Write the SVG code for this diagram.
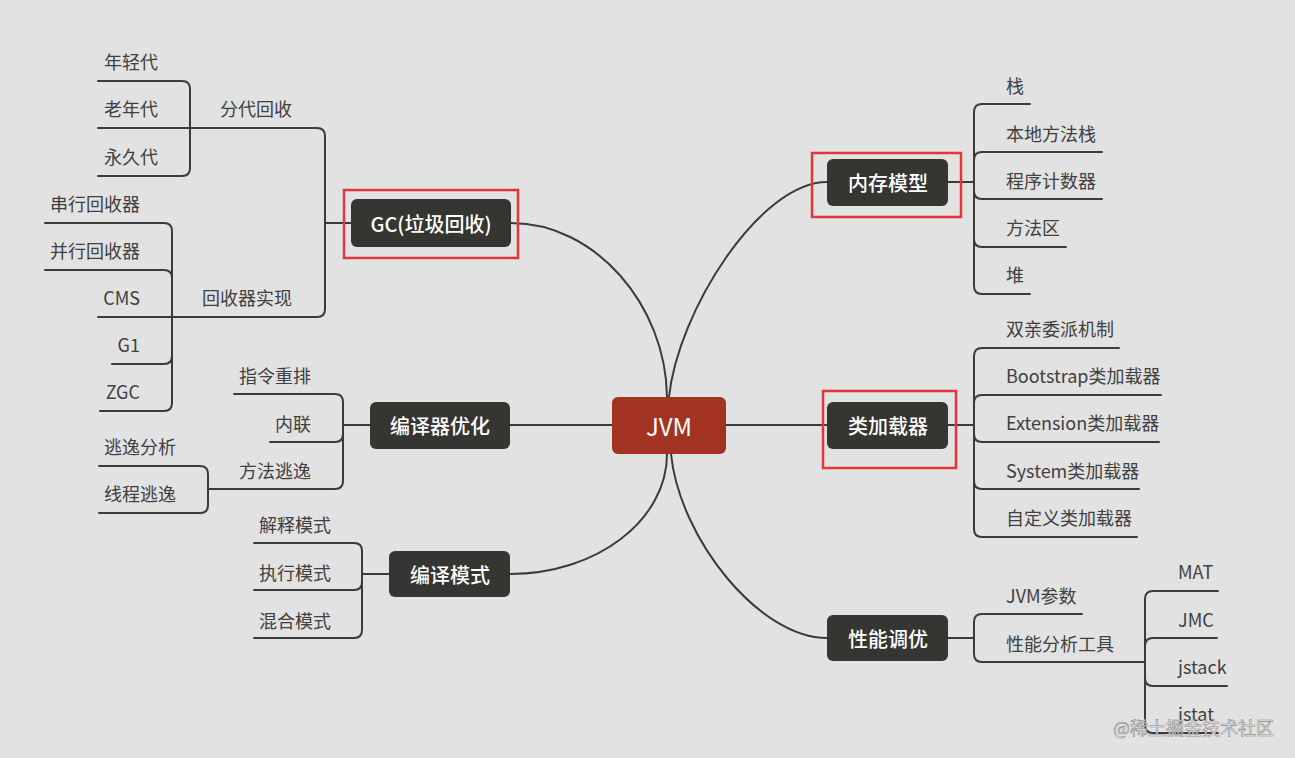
<svg xmlns="http://www.w3.org/2000/svg" width="1295" height="758" viewBox="0 0 1295 758">
<style>
.bg{fill:#e2e2e2}
.ln{fill:none;stroke:#3b3b3b;stroke-width:2;stroke-linecap:round;stroke-linejoin:round}
.mn{fill:none;stroke:#3b3b3b;stroke-width:2}
.node{fill:#353532}
.root{fill:#a23421}
.nt{font-family:"Noto Sans CJK SC","Noto Sans",sans-serif;font-size:20px;font-weight:500;fill:#ffffff;text-anchor:middle;dominant-baseline:central}
.rt{font-family:"Noto Sans CJK SC","Noto Sans",sans-serif;font-size:24px;fill:#ffffff;text-anchor:middle;dominant-baseline:central}
.ct{font-family:"Noto Sans CJK SC","Noto Sans",sans-serif;font-size:18px;fill:#404040;dominant-baseline:central}
.l{text-anchor:end}
.hl{fill:none;stroke:#e5343a;stroke-width:2.5}
.wm{font-family:"Noto Sans CJK SC","Noto Sans",sans-serif;font-size:18px;fill:#ececec;stroke:#8e8e8e;stroke-width:0.6;dominant-baseline:central}
</style>
<rect class="bg" x="0" y="0" width="1295" height="758"/>

<g id="connectors">
  <path class="mn" d="M667,397 C666,305 595,223 511,223"/>
  <path class="mn" d="M669,397 C678,311 760,182 827,182"/>
  <path class="mn" d="M612,425 H510"/>
  <path class="mn" d="M726,425 H827"/>
  <path class="mn" d="M667,454 C667,520 597,574 510,574"/>
  <path class="mn" d="M671,454 C680,540 760,638 827,638"/>

  <!-- GC subtree -->
  <path class="ln" d="M351,223 H325"/>
  <path class="ln" d="M325,223 V136 Q325,128 317,128 H190"/>
  <path class="ln" d="M325,223 V309 Q325,317 317,317 H172"/>
  <path class="ln" d="M190,128 V89 Q190,81 182,81 H98"/>
  <path class="ln" d="M190,128 H98"/>
  <path class="ln" d="M190,128 V168 Q190,176 182,176 H98"/>
  <path class="ln" d="M172,317 V231 Q172,223 164,223 H45"/>
  <path class="ln" d="M172,317 V278 Q172,270 164,270 H45"/>
  <path class="ln" d="M172,317 H98"/>
  <path class="ln" d="M172,317 V356 Q172,364 164,364 H112"/>
  <path class="ln" d="M172,317 V403 Q172,411 164,411 H100"/>

  <!-- 编译器优化 subtree -->
  <path class="ln" d="M370,425 H343"/>
  <path class="ln" d="M343,425 V402 Q343,394 335,394 H234"/>
  <path class="ln" d="M343,425 V434 Q343,442 335,442 H270"/>
  <path class="ln" d="M343,425 V481 Q343,489 335,489 H208"/>
  <path class="ln" d="M208,489 V474 Q208,466 200,466 H99"/>
  <path class="ln" d="M208,489 V505 Q208,513 200,513 H99"/>

  <!-- 编译模式 subtree -->
  <path class="ln" d="M389,574 H362"/>
  <path class="ln" d="M362,574 V551 Q362,543 354,543 H254"/>
  <path class="ln" d="M362,574 V582 Q362,590 354,590 H254"/>
  <path class="ln" d="M362,574 V630 Q362,638 354,638 H254"/>

  <!-- 内存模型 subtree -->
  <path class="ln" d="M948,182 H974"/>
  <path class="ln" d="M974,182 V112 Q974,104 982,104 H1030"/>
  <path class="ln" d="M974,182 V160 Q974,152 982,152 H1102"/>
  <path class="ln" d="M974,182 V191 Q974,199 982,199 H1102"/>
  <path class="ln" d="M974,182 V239 Q974,247 982,247 H1066"/>
  <path class="ln" d="M974,182 V286 Q974,294 982,294 H1030"/>

  <!-- 类加载器 subtree -->
  <path class="ln" d="M948,425 H974"/>
  <path class="ln" d="M974,425 V356 Q974,348 982,348 H1119"/>
  <path class="ln" d="M974,425 V403 Q974,395 982,395 H1161"/>
  <path class="ln" d="M974,425 V434 Q974,442 982,442 H1159"/>
  <path class="ln" d="M974,425 V481 Q974,489 982,489 H1139"/>
  <path class="ln" d="M974,425 V529 Q974,537 982,537 H1137"/>

  <!-- 性能调优 subtree -->
  <path class="ln" d="M948,638 H974"/>
  <path class="ln" d="M974,638 V622 Q974,614 982,614 H1082"/>
  <path class="ln" d="M974,638 V654 Q974,662 982,662 H1145"/>
  <path class="ln" d="M1145,662 V599 Q1145,591 1153,591 H1218"/>
  <path class="ln" d="M1145,662 V646 Q1145,638 1153,638 H1217"/>
  <path class="ln" d="M1145,662 V678 Q1145,686 1153,686 H1227"/>
  <path class="ln" d="M1145,662 V725 Q1145,733 1153,733 H1218"/>
</g>

<g id="node-jvm"><rect class="root" x="612" y="397" width="114" height="57" rx="6"/><text class="rt" x="669" y="425">JVM</text></g>

<g id="node-gc"><rect class="node" x="351" y="199" width="160" height="48" rx="6"/><text class="nt" x="431" y="223">GC(垃圾回收)</text></g>
<g id="node-fendai"><text class="ct l" x="292" y="108">分代回收</text></g>
<g id="node-young"><text class="ct l" x="158" y="61">年轻代</text></g>
<g id="node-old"><text class="ct l" x="158" y="108">老年代</text></g>
<g id="node-perm"><text class="ct l" x="158" y="156">永久代</text></g>
<g id="node-collector"><text class="ct l" x="292" y="297">回收器实现</text></g>
<g id="node-serial"><text class="ct l" x="140" y="203">串行回收器</text></g>
<g id="node-parallel"><text class="ct l" x="140" y="250">并行回收器</text></g>
<g id="node-cms"><text class="ct l" x="140" y="297">CMS</text></g>
<g id="node-g1"><text class="ct l" x="140" y="344">G1</text></g>
<g id="node-zgc"><text class="ct l" x="140" y="391">ZGC</text></g>

<g id="node-compiler-opt"><rect class="node" x="370" y="402" width="140" height="47" rx="6"/><text class="nt" x="440" y="425">编译器优化</text></g>
<g id="node-reorder"><text class="ct l" x="311" y="375">指令重排</text></g>
<g id="node-inline"><text class="ct l" x="311" y="423">内联</text></g>
<g id="node-escape"><text class="ct l" x="311" y="470">方法逃逸</text></g>
<g id="node-escape-analysis"><text class="ct l" x="176" y="446">逃逸分析</text></g>
<g id="node-thread-escape"><text class="ct l" x="176" y="493">线程逃逸</text></g>

<g id="node-compile-mode"><rect class="node" x="389" y="551" width="121" height="46" rx="6"/><text class="nt" x="450" y="574">编译模式</text></g>
<g id="node-interp"><text class="ct l" x="331" y="524">解释模式</text></g>
<g id="node-exec"><text class="ct l" x="331" y="572">执行模式</text></g>
<g id="node-mixed"><text class="ct l" x="331" y="620">混合模式</text></g>

<g id="node-memory"><rect class="node" x="827" y="159" width="121" height="47" rx="6"/><text class="nt" x="888" y="182">内存模型</text></g>
<g id="node-stack"><text class="ct" x="1006" y="85">栈</text></g>
<g id="node-native-stack"><text class="ct" x="1006" y="133">本地方法栈</text></g>
<g id="node-pc"><text class="ct" x="1006" y="180">程序计数器</text></g>
<g id="node-method-area"><text class="ct" x="1006" y="227">方法区</text></g>
<g id="node-heap"><text class="ct" x="1006" y="274">堆</text></g>

<g id="node-classloader"><rect class="node" x="827" y="402" width="121" height="47" rx="6"/><text class="nt" x="888" y="425">类加载器</text></g>
<g id="node-parent-deleg"><text class="ct" x="1006" y="328">双亲委派机制</text></g>
<g id="node-bootstrap"><text class="ct" x="1006" y="375">Bootstrap类加载器</text></g>
<g id="node-extension"><text class="ct" x="1006" y="422">Extension类加载器</text></g>
<g id="node-system"><text class="ct" x="1006" y="470">System类加载器</text></g>
<g id="node-custom"><text class="ct" x="1006" y="517">自定义类加载器</text></g>

<g id="node-tuning"><rect class="node" x="827" y="615" width="121" height="46" rx="6"/><text class="nt" x="888" y="638">性能调优</text></g>
<g id="node-jvm-params"><text class="ct" x="1006" y="595">JVM参数</text></g>
<g id="node-tools"><text class="ct" x="1006" y="643">性能分析工具</text></g>
<g id="node-mat"><text class="ct" x="1178" y="571">MAT</text></g>
<g id="node-jmc"><text class="ct" x="1178" y="619">JMC</text></g>
<g id="node-jstack"><text class="ct" x="1178" y="666">jstack</text></g>
<g id="node-jstat"><text class="ct" x="1178" y="713">jstat</text></g>

<g id="highlights">
  <rect class="hl" x="344" y="190" width="174" height="68"/>
  <rect class="hl" x="812" y="153" width="149" height="64"/>
  <rect class="hl" x="823" y="391" width="133" height="77"/>
</g>

<text class="wm" x="1113" y="727">@稀土掘金技术社区</text>
</svg>
